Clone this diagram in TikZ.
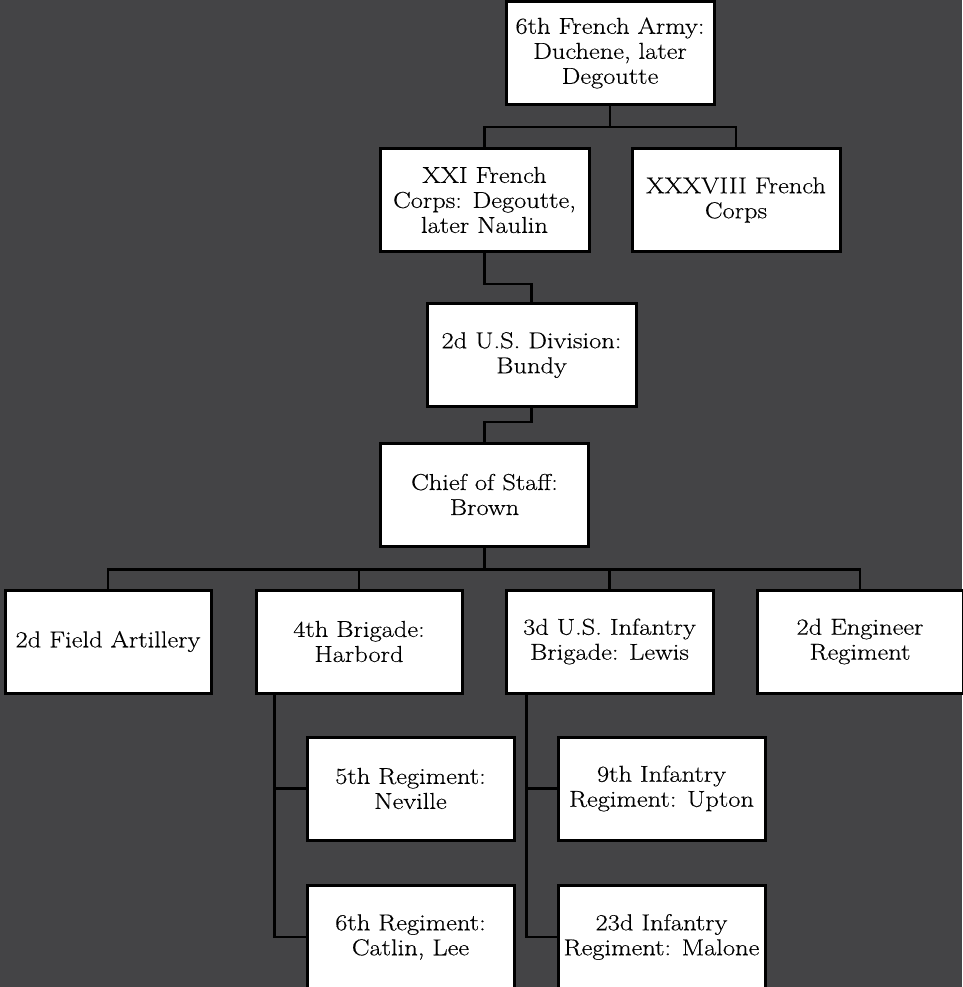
\documentclass[tikz,border=0pt]{standalone}
\usepackage{fontspec}
\setmainfont{Latin Modern Roman}[FakeStretch=1.15,FakeBold=0.4]
\usetikzlibrary{calc}
\definecolor{bgc}{RGB}{68,68,70}
\tikzset{
  x=1pt, y=-1pt,
  unitbox/.style={draw=black, fill=white, line width=3pt, rectangle, align=center,
    minimum width=#1, minimum height=103pt, inner sep=0pt,
    font=\fontsize{23}{25}\selectfont},
  unitbox/.default=207pt,
  link/.style={draw=black, line width=2.8pt}
}
\begin{document}
\begin{tikzpicture}
\fill[bgc] (0,0) rectangle (962,987);
\useasboundingbox (0,0) rectangle (962,987);
\node[unitbox=208pt] (army) at (610,53) {6th French Army:\\Duchene, later\\Degoutte};
\node[unitbox=209pt] (xxi) at (484.5,200) {XXI French\\Corps: Degoutte,\\later Naulin};
\node[unitbox=208pt] (xxxviii) at (736,200) {XXXVIII French\\Corps};
\node[unitbox=209pt] (div) at (531.5,355) {2d U.S. Division:\\Bundy};
\node[unitbox=208pt] (chief) at (484.5,494.5) {Chief of Staff:\\Brown};
\node[unitbox=206pt] (fa) at (108,641.5) {2d Field Artillery};
\node[unitbox=206pt] (bde4) at (359,641.5) {4th Brigade:\\Harbord};
\node[unitbox=207pt] (bde3) at (609.5,641.5) {3d U.S. Infantry\\Brigade: Lewis};
\node[unitbox=206pt] (eng) at (860,641.5) {2d Engineer\\Regiment};
\node[unitbox=207pt] (reg5) at (410.5,788.5) {5th Regiment:\\Neville};
\node[unitbox=207pt] (reg6) at (410.5,937) {6th Regiment:\\Catlin, Lee};
\node[unitbox=207pt] (reg9) at (661.5,788.5) {9th Infantry\\Regiment: Upton};
\node[unitbox=207pt] (reg23) at (661.5,937) {23d Infantry\\Regiment: Malone};
% connectors
\draw[link] (army.south) -- ++(0,21) -| (xxi.north);
\draw[link] (army.south) -- ++(0,21) -| (xxxviii.north);
\draw[link] (xxi.south) -- ++(0,31) -| (div.north);
\draw[link] (div.south) -- ++(0,14) -| (chief.north);
\foreach \t in {fa,bde4,bde3,eng}
  \draw[link] (chief.south) -- ++(0,22) -| (\t.north);
\draw[link] ([xshift=20pt]bde4.south west) |- (reg5.west);
\draw[link] ([xshift=20pt]bde4.south west) |- (reg6.west);
\draw[link] ([xshift=22pt]bde3.south west) |- (reg9.west);
\draw[link] ([xshift=22pt]bde3.south west) |- (reg23.west);
\end{tikzpicture}
\end{document}
